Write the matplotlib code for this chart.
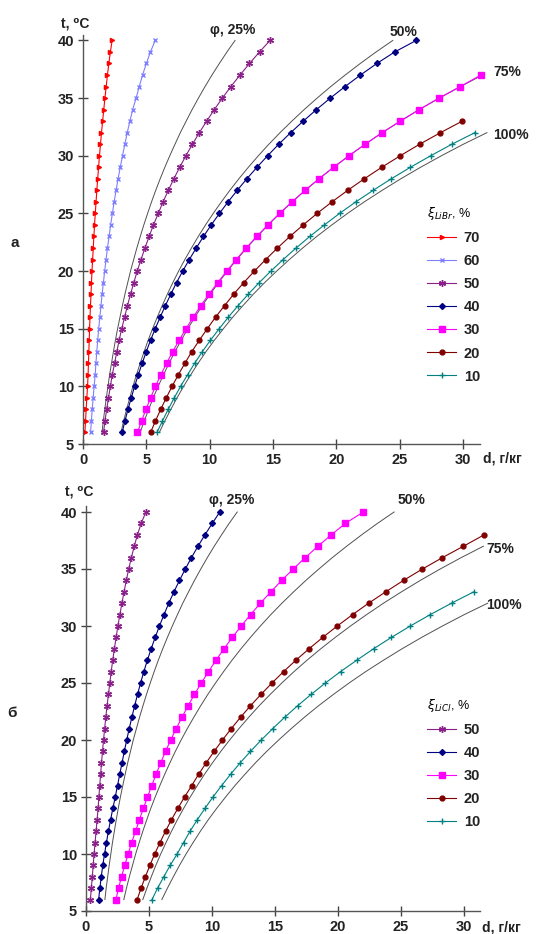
import matplotlib.pyplot as plt

plt.rcParams['font.family'] = ['Liberation Sans', 'DejaVu Sans']

# temperature grid, degC (one marker per degree)
t_40 = list(range(6, 41))
t_38 = list(range(6, 39))
t_37 = list(range(6, 38))
t_33 = list(range(6, 34))
t_32 = list(range(6, 33))

# relative humidity lines phi, d in g/kg
phi_25 = [1.50, 1.60, 1.72, 1.84, 1.97, 2.10, 2.25, 2.40, 2.56, 2.73, 2.92, 3.11, 3.31, 3.53, 3.75,
          4.00, 4.25, 4.52, 4.80, 5.10, 5.41, 5.74, 6.09, 6.46, 6.85, 7.26, 7.68, 8.14, 8.61, 9.11,
          9.63, 10.18, 10.76, 11.36, 12.00]
phi_50 = [3.00, 3.21, 3.44, 3.69, 3.94, 4.22, 4.51, 4.82, 5.14, 5.49, 5.86, 6.25, 6.66, 7.09, 7.55,
          8.04, 8.56, 9.10, 9.67, 10.28, 10.92, 11.59, 12.30, 13.05, 13.84, 14.67, 15.55, 16.48,
          17.45, 18.48, 19.55, 20.69, 21.88, 23.13, 24.45]
phi_75 = [4.51, 4.83, 5.18, 5.54, 5.93, 6.35, 6.79, 7.25, 7.75, 8.27, 8.83, 9.41, 10.04, 10.70, 11.40,
          12.14, 12.92, 13.74, 14.62, 15.54, 16.51, 17.54, 18.63, 19.78, 20.99, 22.27, 23.61, 25.04,
          26.53, 28.11, 29.78, 31.54]
phi_100 = [6.02, 6.46, 6.93, 7.42, 7.94, 8.50, 9.08, 9.70, 10.37, 11.08, 11.82, 12.62, 13.45, 14.34,
           15.29, 16.29, 17.34, 18.45, 19.64, 20.88, 22.20, 23.61, 25.08, 26.64, 28.29, 30.02, 31.88]

# (a) LiBr solution, concentration 70..10 %
a_70 = [0.15, 0.20, 0.25, 0.30, 0.36, 0.40, 0.43, 0.46, 0.49, 0.52, 0.55, 0.59, 0.63, 0.67, 0.71,
        0.76, 0.81, 0.86, 0.91, 0.97, 1.03, 1.09, 1.16, 1.23, 1.30, 1.38, 1.46, 1.55, 1.64, 1.73,
        1.83, 1.93, 2.04, 2.16, 2.30]
a_60 = [0.60, 0.66, 0.73, 0.80, 0.88, 0.96, 1.02, 1.09, 1.16, 1.24, 1.33, 1.42, 1.51, 1.61, 1.71,
        1.82, 1.93, 2.06, 2.18, 2.32, 2.46, 2.61, 2.77, 2.94, 3.12, 3.30, 3.49, 3.70, 3.92, 4.19,
        4.44, 4.70, 5.00, 5.32, 5.70]
a_50 = [1.62, 1.73, 1.87, 2.01, 2.16, 2.31, 2.49, 2.67, 2.85, 3.06, 3.28, 3.51, 3.75, 4.01, 4.28,
        4.58, 4.89, 5.22, 5.56, 5.94, 6.32, 6.73, 7.17, 7.63, 8.12, 8.64, 9.18, 9.76, 10.36, 11.00,
        11.67, 12.39, 13.14, 13.93, 14.76]
a_40 = [3.09, 3.31, 3.55, 3.81, 4.07, 4.36, 4.67, 4.99, 5.33, 5.70, 6.09, 6.50, 6.93, 7.38, 7.87,
        8.39, 8.94, 9.51, 10.12, 10.77, 11.45, 12.17, 12.93, 13.73, 14.57, 15.45, 16.39, 17.38,
        18.42, 19.52, 20.68, 21.90, 23.19, 24.60, 26.30]
a_30 = [4.30, 4.62, 4.97, 5.33, 5.72, 6.14, 6.60, 7.07, 7.59, 8.13, 8.70, 9.30, 9.95, 10.63, 11.35,
        12.10, 12.88, 13.71, 14.59, 15.52, 16.50, 17.53, 18.62, 19.78, 20.99, 22.27, 23.61, 25.04,
        26.53, 28.11, 29.78, 31.40]
a_20 = [5.33, 5.72, 6.13, 6.57, 7.03, 7.52, 8.04, 8.58, 9.18, 9.81, 10.46, 11.17, 11.90, 12.69,
        13.53, 14.42, 15.35, 16.33, 17.38, 18.48, 19.65, 20.89, 22.20, 23.58, 25.04, 26.57, 28.21,
        29.93]
a_10 = [5.84, 6.27, 6.72, 7.20, 7.70, 8.25, 8.81, 9.41, 10.06, 10.75, 11.47, 12.24, 13.05, 13.91,
        14.83, 15.80, 16.82, 17.90, 19.05, 20.25, 21.53, 22.90, 24.33, 25.84, 27.44, 29.12, 30.92]

# (b) LiCl solution, concentration 50..10 %
b_50 = [0.35, 0.42, 0.50, 0.57, 0.64, 0.72, 0.80, 0.88, 0.96, 1.02, 1.09, 1.16, 1.23, 1.31, 1.39,
        1.48, 1.57, 1.67, 1.78, 1.89, 2.00, 2.12, 2.25, 2.39, 2.53, 2.69, 2.85, 3.02, 3.20, 3.39,
        3.60, 3.83, 4.08, 4.38, 4.75]
b_40 = [1.00, 1.10, 1.21, 1.33, 1.47, 1.62, 1.78, 1.95, 2.13, 2.32, 2.50, 2.68, 2.86, 3.04, 3.23,
        3.43, 3.64, 3.86, 4.09, 4.33, 4.59, 4.87, 5.17, 5.49, 5.83, 6.19, 6.57, 6.98, 7.42, 7.88,
        8.37, 8.89, 9.44, 10.02, 10.62]
b_30 = [2.38, 2.58, 2.82, 3.07, 3.35, 3.62, 3.93, 4.24, 4.55, 4.88, 5.22, 5.56, 5.93, 6.31, 6.72,
        7.16, 7.62, 8.10, 8.61, 9.15, 9.72, 10.32, 10.95, 11.61, 12.32, 13.06, 13.84, 14.67, 15.53,
        16.45, 17.40, 18.41, 19.47, 20.59, 22.00]
b_20 = [4.06, 4.37, 4.71, 5.07, 5.45, 5.87, 6.31, 6.78, 7.29, 7.82, 8.39, 8.94, 9.54, 10.17, 10.83,
        11.53, 12.27, 13.05, 13.89, 14.76, 15.68, 16.66, 17.70, 18.79, 19.94, 21.16, 22.43, 23.79,
        25.20, 26.70, 28.29, 29.96, 31.60]
b_10 = [5.24, 5.68, 6.17, 6.68, 7.23, 7.74, 8.26, 8.83, 9.44, 10.08, 10.76, 11.48, 12.24, 13.05,
        13.91, 14.82, 15.78, 16.79, 17.87, 19.00, 20.20, 21.49, 22.82, 24.24, 25.74, 27.32, 29.01,
        30.78]

y_ticks = [5, 10, 15, 20, 25, 30, 35, 40]
x_ticks = [0, 5, 10, 15, 20, 25, 30]

# colour / marker per concentration
styles = {
    '70': dict(color='#ff0000', marker='>', ms=3),
    '60': dict(color='#7f7fff', marker='x', ms=3.5),
    '50': dict(color='#8a208a', marker=(6, 2, 0), ms=5),
    '40': dict(color='#000080', marker='D', ms=3),
    '30': dict(color='#ff00ff', marker='s', ms=4),
    '20': dict(color='#800000', marker='o', ms=3.5),
    '10': dict(color='#008080', marker='+', ms=5),
}

W, H = 542, 934
fig = plt.figure(figsize=(W / 100, H / 100), dpi=100)

ax_a = fig.add_axes([83 / W, 1 - 444 / H, 411.8 / W, 415.1 / H])
ax_b = fig.add_axes([86 / W, 1 - 911 / H, 409.5 / W, 410.4 / H])


def draw_phi(ax):
    ax.plot(phi_25, t_40, color='#505050', lw=0.7)
    ax.plot(phi_50, t_40, color='#505050', lw=0.7)
    ax.plot(phi_75, t_37, color='#505050', lw=0.7)
    ax.plot(phi_100, t_32, color='#505050', lw=0.7)


def style_axes(ax):
    ax.set_xlim(0, 32.5)
    ax.set_ylim(5, 41)
    for s in ['top', 'right']:
        ax.spines[s].set_visible(False)
    ax.spines['left'].set_bounds(5, 40.5)
    ax.spines['bottom'].set_bounds(0, 31.3)
    for s in ['left', 'bottom']:
        ax.spines[s].set_color('#555555')
        ax.spines[s].set_linewidth(1.0)
    ax.set_xticks(x_ticks)
    ax.set_yticks(y_ticks)
    ax.tick_params(direction='inout', length=7, width=1, color='#444444',
                   labelsize=10.5, labelcolor='#222222', pad=3)
    for lab in ax.get_xticklabels() + ax.get_yticklabels():
        lab.set_fontweight('bold')
    ax.patch.set_alpha(0)


def draw_series(ax, series):
    handles = []
    for name, t, d in series:
        st = styles[name]
        ln, = ax.plot(d, t, color=st['color'], lw=0.8, marker=st['marker'], ms=st['ms'],
                      mew=1.0, mfc=st['color'], mec=st['color'], label=name)
        handles.append(ln)
    return handles


draw_phi(ax_a)
h_a = draw_series(ax_a, [('70', t_40, a_70), ('60', t_40, a_60), ('50', t_40, a_50),
                         ('40', t_40, a_40), ('30', t_37, a_30), ('20', t_33, a_20),
                         ('10', t_32, a_10)])
style_axes(ax_a)

draw_phi(ax_b)
h_b = draw_series(ax_b, [('50', t_40, b_50), ('40', t_40, b_40), ('30', t_40, b_30),
                         ('20', t_38, b_20), ('10', t_33, b_10)])
style_axes(ax_b)

leg_kw = dict(loc='upper left', bbox_transform=fig.transFigure, frameon=False,
              handlelength=2.0, handletextpad=0.5, labelspacing=0.62, borderpad=0,
              fontsize=10.5, title_fontsize=9, alignment='left')
la = ax_a.legend(handles=h_a, title=r'$\xi_{LiBr}$, %', bbox_to_anchor=(420 / W, 1 - 198 / H), **leg_kw)
lb = ax_b.legend(handles=h_b, title=r'$\xi_{LiCl}$, %', bbox_to_anchor=(420 / W, 1 - 690 / H), **leg_kw)
for lg in (la, lb):
    for tx in lg.get_texts():
        tx.set_fontweight('bold')
        tx.set_color('#222222')

txt = dict(fontsize=10, fontweight='bold', color='#222222', ha='center', va='center')
# labels of phi lines
for x, y, s in [(233, 30, 'φ, 25%'), (404, 32, '50%'), (507, 72, '75%'), (511, 135, '100%'),
                (232, 500, 'φ, 25%'), (412, 500, '50%'), (500, 549, '75%'), (504, 605, '100%')]:
    fig.text(x / W, 1 - y / H, s, **txt)

fig.text(75 / W, 1 - 24 / H, 't, ⁰C', **txt)
fig.text(79 / W, 1 - 491 / H, 't, ⁰C', **txt)
fig.text(483 / W, 1 - 459 / H, 'd, г/кг', fontsize=10, fontweight='bold', color='#222222',
         ha='left', va='center')
fig.text(482 / W, 1 - 927 / H, 'd, г/кг', fontsize=10, fontweight='bold', color='#222222',
         ha='left', va='center')
fig.text(15 / W, 1 - 243 / H, 'а', fontsize=11, fontweight='bold', color='#222222', ha='center', va='center')
fig.text(12 / W, 1 - 713 / H, 'б', fontsize=11, fontweight='bold', color='#222222', ha='center', va='center')

fig.savefig('out.png', dpi=100)
